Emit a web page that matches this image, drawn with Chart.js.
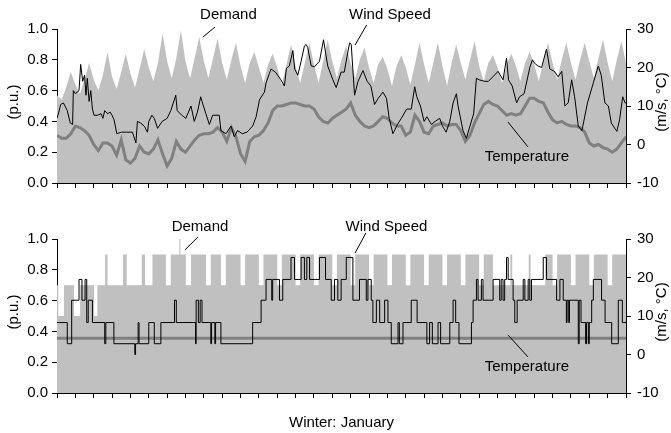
<!DOCTYPE html>
<html>
<head>
<meta charset="utf-8">
<script src="https://cdn.jsdelivr.net/npm/chart.js@4.4.1/dist/chart.umd.min.js"></script>
<style>
    body { margin: 0; background: #fff; }
    #wrap { position: relative; width: 671px; height: 433px; }
    canvas { position: absolute; left: 0; }
</style>
</head>
<body>
<div id="wrap">
    <canvas id="topChart" width="671" height="200" style="top:0"></canvas>
    <canvas id="bottomChart" width="671" height="233" style="top:200px"></canvas>
</div>
<script>
// days between samples of the measured demand and temperature
const STEP = 0.25;

// top panel: measured values, one every 6 h through January
const demandTop = [
    0.57, 0.54, 0.62, 0.72,  0.64, 0.58, 0.67, 0.78,  0.67, 0.60, 0.70, 0.85,  0.69, 0.61, 0.72, 0.84,
    0.71, 0.62, 0.74, 0.87,  0.75, 0.66, 0.78, 0.97,  0.79, 0.68, 0.81, 0.99,  0.79, 0.68, 0.81, 0.95,
    0.79, 0.68, 0.81, 0.94,  0.78, 0.67, 0.80, 0.91,  0.76, 0.65, 0.78, 0.85,  0.75, 0.65, 0.77, 0.84,
    0.75, 0.64, 0.77, 0.90,  0.76, 0.65, 0.78, 0.91,  0.77, 0.65, 0.79, 0.93,  0.79, 0.68, 0.80, 0.89,
    0.78, 0.68, 0.80, 0.88,  0.75, 0.65, 0.77, 0.82,  0.74, 0.63, 0.76, 0.83,  0.75, 0.64, 0.77, 0.91,
    0.77, 0.65, 0.78, 0.91,  0.76, 0.63, 0.78, 0.90,  0.78, 0.67, 0.80, 0.92,  0.76, 0.66, 0.78, 0.83,
    0.75, 0.65, 0.77, 0.84,  0.76, 0.66, 0.78, 0.85,  0.77, 0.66, 0.79, 0.91,  0.78, 0.67, 0.80, 0.91,
    0.78, 0.67, 0.80, 0.91,  0.79, 0.68, 0.81, 0.93,  0.78, 0.66, 0.80, 0.92,  0.78
];
const tempTop = [
    2.4, 1.6, 1.6, 2.8,    4.8, 4.4, 3.6, 2.4,     0, -1.6, 0.4, 0.4,    -0.4, -2.8, 1.2, -4,
    -4.8, -3.6, -0.4, -2,  -2.4, -1.2, 1.2, -2.4,  -5.6, -3.6, 0.8, -1.2,  -2, -0.4, 1.2, 2.4,
    2.8, 2.8, 3.2, 4.4,    3.2, 0.8, 4.4, 2,       -2.4, -4.4, 0.8, 2,   2.4, 3.6, 5.6, 8.8,
    10, 10, 10.4, 10.8,    10.8, 10.4, 10, 10,     9.2, 7.2, 6, 5.6,     6.8, 7.6, 8.4, 9.2,
    10.8, 7.6, 6, 4.8,     4.4, 4.8, 6, 7.2,       6.8, 5.6, 4.8, 4.8,   2.4, 3.2, 7.6, 6,
    3.2, 2.8, 4.8, 5.2,    5.6, 4.8, 5.2, 5.2,     3.6, 0.8, 2.4, 5.6,   8, 10.4, 11.2, 10.4,
    10, 8.8, 7.6, 8,       7.6, 8, 10, 12,         12, 11.2, 10.8, 8.4,  6.4, 5.6, 6, 5.2,
    4.8, 4.8, 4.4, 3.2,    0.4, -0.4, 0, -0.8,     -1.2, -2, -1.2, 0.4,  2
];
// wind speed read at its turning points (day, m/s)
const windTopDays = [
    0, 0.1, 0.2, 0.35, 0.56, 0.72, 0.85, 0.89, 1.0, 1.2, 1.29, 1.4, 1.5, 1.58, 1.65, 1.75, 1.84, 1.93,
    2.02, 2.2, 2.4, 2.5, 2.6, 2.75, 2.9, 3.0, 3.11, 3.26, 3.5, 3.8, 4.11, 4.3, 4.38, 4.55, 4.75, 4.93,
    5.0, 5.17, 5.3, 5.48, 5.73, 6.0, 6.2, 6.47, 6.55, 6.8, 7.02, 7.3, 7.48, 7.65, 7.83, 7.9, 8.11, 8.3,
    8.48, 8.84, 8.93, 9.21, 9.48, 9.66, 9.84, 10.1, 10.35, 10.66, 10.85, 11.03, 11.3, 11.39, 11.57,
    11.66, 11.9, 12.2, 12.39, 12.5, 12.66, 12.85, 12.95, 13.12, 13.3, 13.48, 13.57, 13.66, 13.85,
    14.03, 14.3, 14.52, 14.75, 15.03, 15.21, 15.48, 15.65, 15.8, 15.94, 16.03, 16.21, 16.4, 16.67,
    16.9, 17.1, 17.3, 17.5, 17.76, 17.95, 18.1, 18.3, 18.55, 18.76, 19.05, 19.3, 19.49, 19.6, 19.8,
    20.0, 20.15, 20.4, 20.6, 20.85, 21.0, 21.2, 21.4, 21.58, 21.76, 21.85, 22.12, 22.3, 22.5, 22.7,
    22.85, 23.0, 23.31, 23.5, 23.75, 24.03, 24.3, 24.49, 24.6, 24.8, 25.04, 25.2, 25.45, 25.76, 25.9,
    26.0, 26.2, 26.4, 26.67, 26.85, 27.1, 27.3, 27.5, 27.67, 27.85, 28.04, 28.2, 28.4, 28.6, 28.9,
    29.22, 29.49, 29.65, 29.85, 30.04, 30.2, 30.5, 30.65, 30.82, 30.95, 31
];
const windTopVals = [
    6.8, 8.4, 10.4, 10.8, 8.8, 5.6, 5.2, 14, 13.2, 14, 20.8, 16.4, 18, 12.8, 17.2, 11.2, 14, 9.2,
    7.6, 7.6, 8, 6.8, 8.8, 8, 8.4, 7.6, 6.4, 2.8, 3.2, 3.2, 3.2, 0.4, 6, 5.6, 4.8, 3.2,
    6, 7.6, 6.8, 4.2, 6, 6.8, 8.8, 12.8, 8.8, 7.6, 6.8, 10, 6, 8.4, 12.4, 11.2, 8, 5.2,
    7.6, 7.6, 3.6, 2.8, 4.8, 2, 3.6, 2.8, 3.2, 4.8, 7.2, 11.6, 13.6, 16, 18.4,
    19.6, 18.8, 16.8, 15.2, 19.8, 20.4, 24.4, 19.6, 18, 21.6, 25.6, 26, 25.2, 20.4,
    20.2, 21.6, 27.2, 20.4, 16.8, 14.8, 18.8, 18.8, 22.8, 26.4, 26, 12.8, 16.4, 19.2,
    16.4, 15.2, 10.4, 12, 13.6, 12, 6.8, 2.8, 5.2, 6.8, 9.2, 9.2, 15, 12.4, 10,
    6, 7.2, 5.2, 6, 6.8, 4.8, 3.2, 6, 10.8, 13.2, 10, 3.6, 1.6, 4.8, 8,
    17.2, 16.8, 16.4, 16.4, 17.6, 19, 16.8, 22.4, 16.8, 15.2, 10.8, 12.4, 13.2, 20, 22,
    21.2, 20.4, 20, 24.8, 19.6, 19, 17.6, 19, 10, 10.8, 16.8, 12.4, 4.8, 3.6, 10.8,
    16, 20.4, 18, 10.8, 10, 5.6, 3.4, 6.4, 12.4, 10.8, 10.8
];

// bottom panel: state model, value holds from each day mark to the next
const demandBotDays = [
    0, 0.07, 0.38, 0.93, 1.26, 2.02, 2.2, 2.62, 2.75, 3.6, 3.8, 4.62, 4.8, 5.2, 5.93, 6.2, 6.66, 6.72,
    7.02, 7.3, 8.12, 8.38, 8.93, 9.2,
    10.0, 10.25, 11.0, 11.25, 12.0, 12.25, 13.0, 13.25, 14.0, 14.25, 15.0, 15.25, 16.0, 16.25,
    17.0, 17.25, 18.0, 18.25, 19.0, 19.25, 20.0, 20.25, 21.0, 21.25, 22.0, 22.25, 23.0, 23.25,
    23.75, 24.7, 24.8, 25.7, 25.8, 26.6, 27.0, 27.25, 28.0, 28.25, 29.0, 29.25, 30.0, 30.25, 31
];
const demandBotLevels = [
    0.7, 0.5, 0.7, 0.5, 0.7, 0.5, 0.7, 0.9, 0.7, 0.9, 0.7, 0.9, 0.7, 0.9, 0.7, 0.9, 1.0, 0.9,
    0.7, 0.9, 0.7, 0.9, 0.7, 0.9,
    0.7, 0.9, 0.7, 0.9, 0.7, 0.9, 0.7, 0.9, 0.7, 0.9, 0.7, 0.9, 0.7, 0.9,
    0.7, 0.9, 0.7, 0.9, 0.7, 0.9, 0.7, 0.9, 0.7, 0.9, 0.7, 0.9, 0.7, 0.9,
    0.7, 0.9, 0.7, 0.9, 0.7, 0.9, 0.7, 0.9, 0.7, 0.9, 0.7, 0.9, 0.7, 0.9, 0.9
];
const windBotDays = [
    0, 0.56, 0.8, 1.2, 1.36, 1.53, 1.62, 1.7, 1.93, 2.6, 2.66, 3.1, 4.24, 4.28, 4.42, 4.47, 5.0, 5.3,
    5.66, 6.4, 6.5, 7.55, 7.58, 7.7, 7.8, 7.9, 8.38, 8.42, 8.6, 8.64, 8.93, 10.66, 11.12, 11.39, 11.7,
    11.75, 12.12, 12.3, 12.75, 12.94, 13.3, 13.48, 13.61, 13.76, 14.3, 14.63, 14.94, 15.12, 15.3, 15.48,
    15.76, 16.12, 16.48, 16.85, 16.94, 17.12, 17.21, 17.4, 17.58, 17.85, 18.03, 18.21, 18.58, 18.65,
    18.85, 19.3, 19.62, 20.15, 20.3, 20.45, 20.76, 20.9, 21.4, 21.58, 21.72, 21.9, 22.58, 22.67, 22.85,
    22.94, 23.12, 23.21, 23.76, 24.12, 24.2, 24.3, 24.39, 24.49, 24.58, 24.85, 24.94, 25.07, 25.4,
    25.49, 25.67, 25.76, 25.85, 26.49, 26.67, 27.22, 27.4, 27.58, 27.75, 27.79, 27.88, 27.92, 28.4,
    28.45, 28.55, 28.8, 28.85, 28.95, 29.0, 29.13, 29.22, 29.67, 29.86, 30.22, 30.58, 30.8, 31
];
const windBotLevels = [
    8.3, 2.8, 14.1, 19.5, 14.1, 19.5, 8.3, 14.1, 8.3, 2.8, 8.3, 2.8, 0, 2.8, 8.3, 2.8, 8.3, 2.8,
    8.3, 14.1, 8.3, 2.8, 14.1, 8.3, 14.1, 8.3, 2.8, 8.3, 2.8, 8.3, 2.8, 8.3, 14.1, 19.5, 14.1,
    19.5, 14.1, 19.5, 25.2, 19.5, 25.2, 19.5, 25.2, 19.5, 25.2, 19.5, 14.1, 19.5, 14.1, 19.5,
    25.2, 14.1, 19.5, 14.1, 19.5, 14.1, 8.3, 14.1, 8.3, 14.1, 8.3, 2.8, 8.3, 2.8,
    8.3, 14.1, 8.3, 2.8, 8.3, 2.8, 8.3, 2.8, 8.3, 14.1, 8.3, 2.8, 8.3, 14.1, 19.5,
    14.1, 19.5, 14.1, 19.5, 14.1, 19.5, 14.1, 19.5, 25.2, 19.5, 14.1, 8.3, 14.1, 19.5,
    14.1, 19.5, 14.1, 19.5, 25.2, 19.5, 14.1, 19.5, 14.1, 8.3, 14.1, 8.3, 14.1, 2.8,
    14.1, 8.3, 2.8, 8.3, 2.8, 8.3, 14.1, 19.5, 14.1, 8.3, 2.8, 14.1, 8.3, 8.3
];
const tempBotDays = [0, 31];
const tempBotLevels = [4.2, 4.2];

const puTicks = [0, 0.2, 0.4, 0.6, 0.8, 1.0];
const siTicks = [-10, 0, 10, 20, 30];

const FONT = '"Liberation Sans", Arial, sans-serif';

// labels with leader lines, in (day, p.u.) so they follow the scales
const topNotes = [
    { text: 'Demand', at: [9.34, 1.09], from: [8.61, 1.013], to: [7.95, 0.948] },
    { text: 'Wind Speed', at: [18.14, 1.09], from: [16.87, 1.026], to: [16.24, 0.896] },
    { text: 'Temperature', at: [25.6, 0.169], from: [25.66, 0.234], to: [24.57, 0.396] }
];
const bottomNotes = [
    { text: 'Demand', at: [7.79, 1.078], from: [6.97, 0.929], to: [7.68, 1.013] },
    { text: 'Wind Speed', at: [17.95, 1.078], from: [16.83, 1.039], to: [16.24, 0.909] },
    { text: 'Temperature', at: [25.6, 0.169], from: [24.57, 0.377], to: [25.66, 0.234] }
];

const series = (vals, step) => vals.map((v, i) => ({ x: i * step, y: v }));
const runs = (days, vals) => days.map((d, i) => ({ x: d, y: vals[i] }));

const notesPlugin = {
    id: 'notes',
    afterDraw(chart, args, opts) {
        const ctx = chart.ctx;
        const xs = chart.scales.x, ys = chart.scales.y;
        const area = chart.chartArea;
        ctx.save();
        ctx.font = '15px ' + FONT;
        ctx.fillStyle = '#000';
        ctx.strokeStyle = '#000';
        ctx.lineWidth = 1;
        ctx.textAlign = 'center';
        ctx.textBaseline = 'middle';
        (opts.items || []).forEach(n => {
            ctx.fillText(n.text, xs.getPixelForValue(n.at[0]), ys.getPixelForValue(n.at[1]));
            ctx.beginPath();
            ctx.moveTo(xs.getPixelForValue(n.from[0]), ys.getPixelForValue(n.from[1]));
            ctx.lineTo(xs.getPixelForValue(n.to[0]), ys.getPixelForValue(n.to[1]));
            ctx.stroke();
        });

        // axis titles, both read bottom to top
        const midY = (area.top + area.bottom) / 2 - 4;
        [[area.left - 43, '(p.u.)'], [area.right + 36, '(m/s, °C)']].forEach(([x, t]) => {
            ctx.save();
            ctx.translate(x, midY);
            ctx.rotate(-Math.PI / 2);
            ctx.fillText(t, 0, 0);
            ctx.restore();
        });

        if (opts.xTitle) {
            ctx.fillText(opts.xTitle, (area.left + area.right) / 2, area.bottom + 30);
        }
        ctx.restore();
    }
};
Chart.register(notesPlugin);

function makeChart(id, datasets, topPad, xHeight, notes, xTitle) {
    const tickFont = { family: FONT, size: 15 };
    return new Chart(document.getElementById(id), {
        type: 'line',
        data: { datasets: datasets },
        options: {
            responsive: false,
            animation: false,
            events: [],
            devicePixelRatio: 1,
            layout: { padding: { top: topPad, left: 0, right: 0, bottom: 0 } },
            elements: { point: { radius: 0 }, line: { tension: 0 } },
            plugins: {
                legend: { display: false },
                tooltip: { enabled: false },
                notes: { items: notes, xTitle: xTitle }
            },
            scales: {
                x: {
                    type: 'linear',
                    min: 0,
                    max: 31,
                    afterBuildTicks: s => { s.ticks = Array.from({ length: 32 }, (_, i) => ({ value: i })); },
                    ticks: { callback: () => '', autoSkip: false },
                    grid: { drawOnChartArea: false, tickLength: 5, color: '#000' },
                    border: { color: '#000', width: 1 },
                    afterFit: s => { s.height = xHeight; }
                },
                y: {
                    position: 'left',
                    min: 0,
                    max: 1,
                    afterBuildTicks: s => { s.ticks = puTicks.map(v => ({ value: v })); },
                    ticks: { callback: v => v.toFixed(1), color: '#000', font: tickFont, padding: 4 },
                    grid: { drawOnChartArea: false, tickLength: 5, color: '#000' },
                    border: { color: '#000', width: 1 },
                    afterFit: s => { s.width = 57; }
                },
                y2: {
                    position: 'right',
                    min: -10,
                    max: 30,
                    afterBuildTicks: s => { s.ticks = siTicks.map(v => ({ value: v })); },
                    ticks: { color: '#000', font: tickFont, padding: 6 },
                    grid: { drawOnChartArea: false, tickLength: 5, color: '#000' },
                    border: { color: '#000', width: 1 },
                    afterFit: s => { s.width = 45; }
                }
            }
        }
    });
}

function demandSet(points, stepped) {
    return {
        label: 'Demand', data: points, yAxisID: 'y', order: 3, stepped: stepped,
        fill: 'origin', backgroundColor: '#c0c0c0', borderColor: 'rgba(0,0,0,0)', borderWidth: 0
    };
}
function windSet(points, stepped) {
    return {
        label: 'Wind Speed', data: points, yAxisID: 'y2', order: 1, stepped: stepped,
        fill: false, borderColor: '#000', borderWidth: 1
    };
}
function tempSet(points, stepped) {
    return {
        label: 'Temperature', data: points, yAxisID: 'y2', order: 2, stepped: stepped,
        fill: false, borderColor: '#808080', borderWidth: 3
    };
}

makeChart('topChart', [
    demandSet(series(demandTop, STEP), false),
    tempSet(series(tempTop, STEP), false),
    windSet(runs(windTopDays, windTopVals), false)
], 29, 17, topNotes, null);

makeChart('bottomChart', [
    demandSet(runs(demandBotDays, demandBotLevels), true),
    tempSet(runs(tempBotDays, tempBotLevels), false),
    windSet(runs(windBotDays, windBotLevels), true)
], 39, 40, bottomNotes, 'Winter: January');
</script>
</body>
</html>
